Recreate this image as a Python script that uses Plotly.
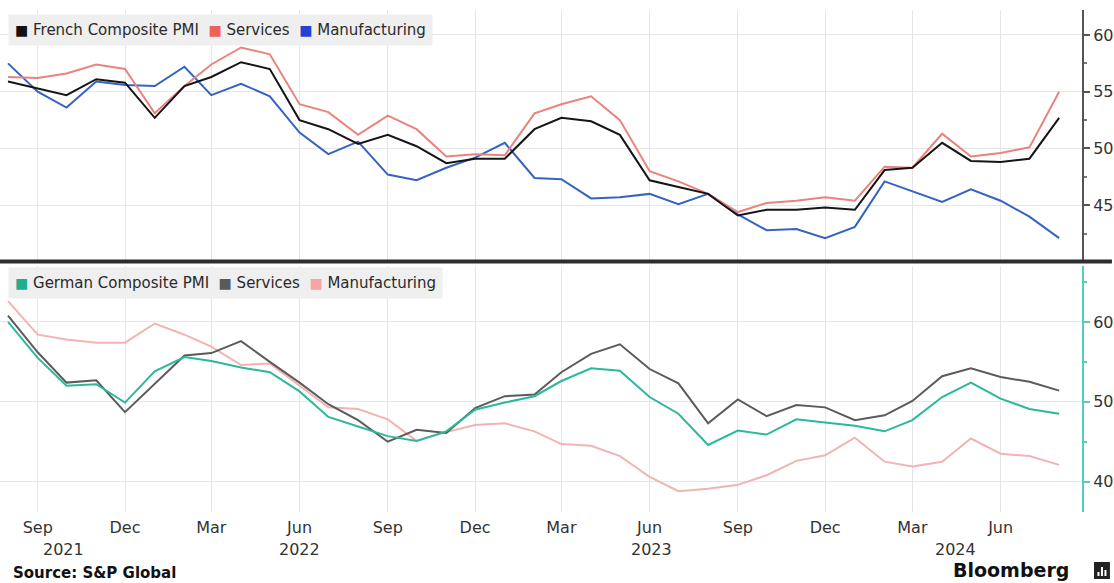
import pandas as pd
import plotly.graph_objects as go

# ---- data -----------------------------------------------------------------
months = pd.date_range("2021-08-01", periods=37, freq="MS")

fr_composite = [55.9, 55.3, 54.7, 56.1, 55.8, 52.7, 55.5, 56.3, 57.6, 57.0, 52.5, 51.7,
                50.4, 51.2, 50.2, 48.7, 49.1, 49.1, 51.7, 52.7, 52.4, 51.2, 47.2, 46.6,
                46.0, 44.1, 44.6, 44.6, 44.8, 44.6, 48.1, 48.3, 50.5, 48.9, 48.8, 49.1, 52.7]
fr_services = [56.3, 56.2, 56.6, 57.4, 57.0, 53.1, 55.5, 57.4, 58.9, 58.3, 53.9, 53.2,
               51.2, 52.9, 51.7, 49.3, 49.5, 49.4, 53.1, 53.9, 54.6, 52.5, 48.0, 47.1,
               46.0, 44.4, 45.2, 45.4, 45.7, 45.4, 48.4, 48.3, 51.3, 49.3, 49.6, 50.1, 55.0]
fr_manufacturing = [57.5, 55.0, 53.6, 55.9, 55.6, 55.5, 57.2, 54.7, 55.7, 54.6, 51.4, 49.5,
                    50.6, 47.7, 47.2, 48.3, 49.2, 50.5, 47.4, 47.3, 45.6, 45.7, 46.0, 45.1,
                    46.0, 44.2, 42.8, 42.9, 42.1, 43.1, 47.1, 46.2, 45.3, 46.4, 45.4, 44.0, 42.1]

de_composite = [60.0, 55.5, 52.0, 52.2, 49.9, 53.8, 55.6, 55.1, 54.3, 53.7, 51.3, 48.1,
                46.9, 45.7, 45.1, 46.3, 49.0, 49.9, 50.7, 52.6, 54.2, 53.9, 50.6, 48.5,
                44.6, 46.4, 45.9, 47.8, 47.4, 47.0, 46.3, 47.7, 50.6, 52.4, 50.4, 49.1, 48.5]
de_services = [60.8, 56.2, 52.4, 52.7, 48.7, 52.2, 55.8, 56.1, 57.6, 55.0, 52.4, 49.7,
               47.7, 45.0, 46.5, 46.1, 49.2, 50.7, 50.9, 53.7, 56.0, 57.2, 54.1, 52.3,
               47.3, 50.3, 48.2, 49.6, 49.3, 47.7, 48.3, 50.1, 53.2, 54.2, 53.1, 52.5, 51.4]
de_manufacturing = [62.6, 58.4, 57.8, 57.4, 57.4, 59.8, 58.4, 56.9, 54.6, 54.8, 52.0, 49.3,
                    49.1, 47.8, 45.1, 46.2, 47.1, 47.3, 46.3, 44.7, 44.5, 43.2, 40.6, 38.8,
                    39.1, 39.6, 40.8, 42.6, 43.3, 45.5, 42.5, 41.9, 42.5, 45.4, 43.5, 43.2, 42.1]

tick_dates = pd.date_range("2021-09-01", "2024-06-01", freq="3MS")
tick_text = [d.strftime("%b") for d in tick_dates]
year_labels = ["2021", "2022", "2023", "2024"]
year_label_dates = ["2021-09-28", "2022-06-01", "2023-06-03", "2024-04-15"]

top_ticks = [45, 50, 55, 60]
bottom_ticks = [40, 50, 60]

# ---- layout geometry ------------------------------------------------------
W, H = 1114, 583
ML, MR, MT, MB = 0, 30, 0, 71
PW, PH = W - ML - MR, H - MT - MB


def px(x):
    return (x - ML) / PW


def py(y):
    return (MT + PH - y) / PH


FONT = "DejaVu Sans"
GRID = "#e6e6e6"
TEXT = "#333333"

c_fr_comp, c_fr_serv, c_fr_manu = "#151515", "#e9837d", "#3563c2"
c_de_comp, c_de_serv, c_de_manu = "#2bb89b", "#5b5b5b", "#f2b4b2"
teal_axis = "#55cdb8"

fig = go.Figure()


def add_line(y, color, xa, ya, name):
    fig.add_trace(go.Scatter(x=months, y=y, mode="lines", name=name,
                             line=dict(color=color, width=2),
                             xaxis=xa, yaxis=ya, showlegend=False))


add_line(fr_manufacturing, c_fr_manu, "x", "y", "Manufacturing")
add_line(fr_services, c_fr_serv, "x", "y", "Services")
add_line(fr_composite, c_fr_comp, "x", "y", "French Composite PMI")
add_line(de_manufacturing, c_de_manu, "x2", "y2", "Manufacturing")
add_line(de_services, c_de_serv, "x2", "y2", "Services")
add_line(de_composite, c_de_comp, "x2", "y2", "German Composite PMI")

x_range = ["2021-07-23 16:00", "2024-08-24 20:00"]
xcommon = dict(range=x_range, type="date", tickvals=list(tick_dates),
               showgrid=True, gridcolor=GRID, gridwidth=1, zeroline=False,
               showline=False, ticks="")

fig.update_layout(
    width=W, height=H,
    margin=dict(l=ML, r=MR, t=MT, b=MB, pad=0),
    paper_bgcolor="white", plot_bgcolor="white",
    font=dict(family=FONT, color=TEXT, size=15),
    xaxis=dict(**xcommon, domain=[0, 1], anchor="y", showticklabels=False),
    xaxis2=dict(**xcommon, domain=[0, 1], anchor="y2", matches="x",
                ticktext=tick_text, showticklabels=True, ticklabelstandoff=4,
                tickfont=dict(family=FONT, size=16, color=TEXT)),
    yaxis=dict(domain=[py(262), py(10)], range=[40.0, 62.2], side="right",
               anchor="x", tickvals=top_ticks, showgrid=True, gridcolor=GRID,
               zeroline=False, showline=True, linecolor="#555555", linewidth=2,
               ticks="outside", ticklen=6, tickwidth=1.5, tickcolor="#555555",
               minor=dict(dtick=2.5, tick0=0, ticks="outside", ticklen=3,
                          tickcolor="#777777", showgrid=False),
               tickfont=dict(family=FONT, size=16, color=TEXT)),
    yaxis2=dict(domain=[0, py(266)], range=[36.2, 67.0], side="right",
                anchor="x2", tickvals=bottom_ticks, showgrid=True, gridcolor=GRID,
                zeroline=False, showline=True, linecolor=teal_axis, linewidth=2,
                ticks="outside", ticklen=6, tickwidth=1.5, tickcolor=teal_axis,
                minor=dict(dtick=5, tick0=0, ticks="outside", ticklen=3,
                           tickcolor=teal_axis, showgrid=False),
                tickfont=dict(family=FONT, size=16, color=TEXT)),
)

shapes = []
# heavy rule separating the two panels
shapes.append(dict(type="line", xref="paper", yref="paper",
                   x0=px(0), x1=px(W), y0=py(261.5), y1=py(261.5),
                   line=dict(color="#2e2e2e", width=4)))
# Bloomberg mark
shapes.append(dict(type="rect", xref="paper", yref="paper",
                   x0=px(1096), x1=px(1112), y0=py(579), y1=py(562),
                   fillcolor="#222222", line=dict(width=0)))
for bx, top in [(1099.5, 572), (1103, 567), (1106.5, 570)]:
    shapes.append(dict(type="rect", xref="paper", yref="paper",
                       x0=px(bx), x1=px(bx + 2), y0=py(576), y1=py(top),
                       fillcolor="white", line=dict(width=0)))
fig.update_layout(shapes=shapes)


def sq(color):
    return f"<span style='color:{color};font-size:14px'>■</span>"


NB = "\u00a0"
top_legend = (f"{sq('#111111')}{NB}French Composite PMI{NB}{NB}{sq('#f0605a')}{NB}Services"
              f"{NB}{NB}{sq('#1f45d0')}{NB}Manufacturing")
bottom_legend = (f"{sq('#1fae8f')}{NB}German Composite PMI{NB}{NB}{sq('#5a5a5a')}{NB}Services"
                 f"{NB}{NB}{sq('#f4a6a6')}{NB}Manufacturing")

annotations = [
    dict(text=top_legend, xref="paper", yref="paper", x=px(8), y=py(29.5),
         xanchor="left", yanchor="middle", showarrow=False, bgcolor="#efefef",
         borderpad=6, font=dict(family=FONT, size=15, color="#2a2a2a")),
    dict(text=bottom_legend, xref="paper", yref="paper", x=px(8), y=py(283),
         xanchor="left", yanchor="middle", showarrow=False, bgcolor="#efefef",
         borderpad=6, font=dict(family=FONT, size=15, color="#2a2a2a")),
    dict(text="<b>Source: S&P Global</b>", xref="paper", yref="paper",
         x=px(11), y=py(573), xanchor="left", yanchor="middle", showarrow=False,
         font=dict(family=FONT, size=15, color="#111111")),
    dict(text="<b>Bloomberg</b>", xref="paper", yref="paper",
         x=px(1073), y=py(570), xanchor="right", yanchor="middle", showarrow=False,
         font=dict(family=FONT, size=19, color="#111111")),
]
for label, d in zip(year_labels, year_label_dates):
    annotations.append(dict(text=label, xref="x2", yref="paper", x=d, y=py(549),
                            xanchor="center", yanchor="middle", showarrow=False,
                            font=dict(family=FONT, size=16, color=TEXT)))
fig.update_layout(annotations=annotations)

fig.write_html("out.html")
